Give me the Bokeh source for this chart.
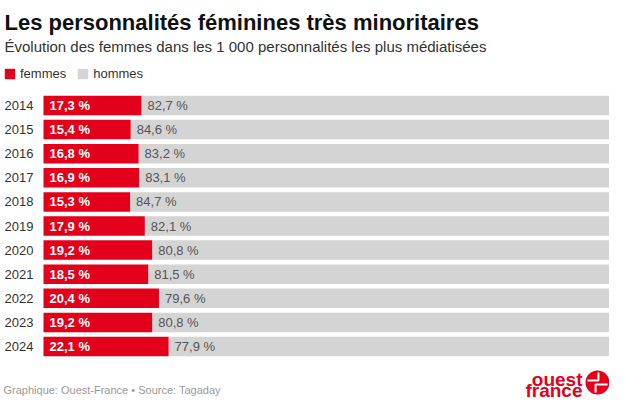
from bokeh.plotting import figure
from bokeh.models import ColumnDataSource, Range1d, Label, Legend, LegendItem
from bokeh.core.properties import value
from bokeh.embed import file_html
from bokeh.resources import INLINE

# ---- data ----
years = ["2014", "2015", "2016", "2017", "2018", "2019", "2020", "2021", "2022", "2023", "2024"]
femmes = [17.3, 15.4, 16.8, 16.9, 15.3, 17.9, 19.2, 18.5, 20.4, 19.2, 22.1]
hommes = [82.7, 84.6, 83.2, 83.1, 84.7, 82.1, 80.8, 81.5, 79.6, 80.8, 77.9]
series_names = ["femmes", "hommes"]

title_text = "Les personnalités féminines très minoritaires"
subtitle_text = "Évolution des femmes dans les 1 000 personnalités les plus médiatisées"
footer_text = "Graphique: Ouest-France • Source: Tagaday"

# ---- style / layout ----
W, H = 609, 400
RED = "#e2001a"
GREY = "#d4d4d4"
FONT = "Liberation Sans"
X0_PX, X100_PX = 43, 609
ROW0_PX, ROW_PX = 105, 24.1
BAR_PX = 19.5

sx = (X100_PX - X0_PX) / 100.0


def xv(px):
    return (px - X0_PX) / sx


def yv(px):
    return (px - ROW0_PX) / ROW_PX


def fmt(v):
    return f"{v:.1f}".replace(".", ",") + " %"


idx = list(range(len(years)))
src = ColumnDataSource(dict(
    y=idx,
    year=years,
    f=femmes,
    h=hommes,
    fend=[f + h for f, h in zip(femmes, hommes)],
    flab=[fmt(v) for v in femmes],
    hlab=[fmt(v) for v in hommes],
))

p = figure(width=W, height=H, output_backend="svg", toolbar_location=None,
           x_range=Range1d(xv(0), 100), y_range=Range1d(yv(H), yv(0)),
           x_axis_location=None, y_axis_location=None, min_border=0,
           tools="")
p.grid.visible = False
p.outline_line_color = None
p.background_fill_color = "white"
p.border_fill_color = "white"

bh = BAR_PX / ROW_PX
r_h = p.hbar(y="y", left="f", right="fend", height=bh, source=src,
             fill_color=GREY, line_color=None)
r_f = p.hbar(y="y", left=0, right="f", height=bh, source=src,
             fill_color=RED, line_color=None)

# year labels
p.text(x=xv(4), y="y", text="year", source=src, text_font=value(FONT),
       text_font_size="13px", text_color="#333333", text_baseline="middle",
       text_align="left")
# value labels
p.text(x=0, y="y", text="flab", source=src, x_offset=6, text_font=value(FONT),
       text_font_size="13px", text_font_style="bold", text_color="white",
       text_baseline="middle", text_align="left")
p.text(x="f", y="y", text="hlab", source=src, x_offset=6, text_font=value(FONT),
       text_font_size="13px", text_color="#555555",
       text_baseline="middle", text_align="left")

# title / subtitle
p.add_layout(Label(x=xv(4), y=yv(22), text=title_text, text_font=FONT,
                   text_font_size="22px", text_font_style="bold",
                   text_color="#111111", text_baseline="alphabetic"))
p.add_layout(Label(x=xv(4), y=yv(46), text=subtitle_text, text_font=FONT,
                   text_font_size="15px", text_color="#333333",
                   text_baseline="alphabetic"))

# legend
legend = Legend(items=[LegendItem(label=series_names[0], renderers=[r_f]),
                       LegendItem(label=series_names[1], renderers=[r_h])],
                orientation="horizontal", location=(3, H - 81),
                glyph_width=13, glyph_height=13, label_height=13,
                label_standoff=4, spacing=10, padding=0, margin=0,
                border_line_color=None, background_fill_alpha=0,
                label_text_font=FONT, label_text_font_size="13px",
                label_text_color="#333333")
p.add_layout(legend, "center")

# footer
p.add_layout(Label(x=xv(3), y=yv(389), text=footer_text, text_font=FONT,
                   text_font_size="11px", text_color="#999999",
                   text_baseline="middle"))

# logo
p.add_layout(Label(x=xv(582), y=yv(379), text="ouest", text_font=FONT,
                   text_font_size="19px", text_font_style="bold",
                   text_color=RED, text_align="right",
                   text_baseline="alphabetic"))
p.add_layout(Label(x=xv(582), y=yv(390), text="france", text_font=FONT,
                   text_font_size="19px", text_font_style="bold",
                   text_color=RED, text_align="right",
                   text_baseline="alphabetic"))
lcx, lcy, lr = 597, 382, 12
p.circle(x=[xv(lcx)], y=[yv(lcy)], radius=lr / sx, fill_color=RED, line_color=None)
k = lr / 12.5
upper = [(1, -10.5), (1, -2), (-10.5, -2)]
lower = [(-2, 10.5), (-2, 2.2), (10.5, 2.2)]
p.multi_line(xs=[[xv(lcx + dx * k) for dx, dy in upper], [xv(lcx + dx * k) for dx, dy in lower]],
             ys=[[yv(lcy + dy * k) for dx, dy in upper], [yv(lcy + dy * k) for dx, dy in lower]],
             line_color="white", line_width=2)

open("out.html", "w").write(file_html(p, INLINE))
